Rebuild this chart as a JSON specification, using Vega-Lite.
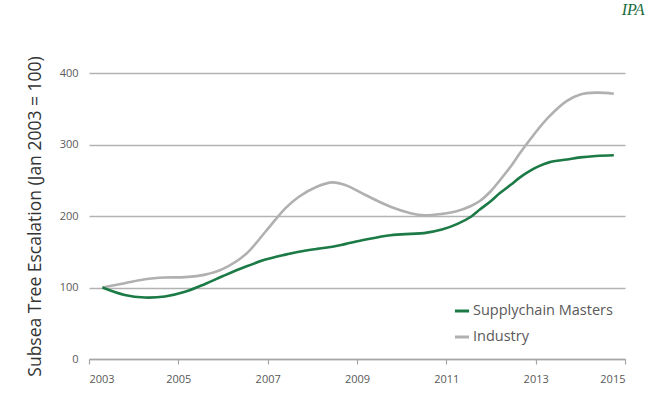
{
  "$schema": "https://vega.github.io/schema/vega-lite/v6.json",
  "width": 536,
  "height": 286,
  "autosize": {"type": "none"},
  "padding": {"left": 89, "top": 73, "right": 20, "bottom": 48},
  "background": "white",
  "config": {
    "view": {"stroke": null},
    "font": "Open Sans"
  },
  "title": {
    "text": "IPA",
    "anchor": "end",
    "orient": "top",
    "offset": 38,
    "dx": 19,
    "font": "Liberation Serif",
    "fontStyle": "italic",
    "fontWeight": "normal",
    "fontSize": 16,
    "color": "#1a6b3c"
  },
  "data": {
    "values": [
      {"series": "Industry", "year": 2003.3, "value": 100},
      {"series": "Industry", "year": 2003.8, "value": 106},
      {"series": "Industry", "year": 2004.25, "value": 111.5},
      {"series": "Industry", "year": 2004.7, "value": 114},
      {"series": "Industry", "year": 2005.15, "value": 114.5},
      {"series": "Industry", "year": 2005.6, "value": 118},
      {"series": "Industry", "year": 2006.0, "value": 126},
      {"series": "Industry", "year": 2006.5, "value": 146},
      {"series": "Industry", "year": 2006.95, "value": 178},
      {"series": "Industry", "year": 2007.4, "value": 211},
      {"series": "Industry", "year": 2007.7, "value": 227},
      {"series": "Industry", "year": 2008.1, "value": 241},
      {"series": "Industry", "year": 2008.45, "value": 247},
      {"series": "Industry", "year": 2008.75, "value": 243},
      {"series": "Industry", "year": 2009.2, "value": 229},
      {"series": "Industry", "year": 2009.75, "value": 213},
      {"series": "Industry", "year": 2010.2, "value": 204},
      {"series": "Industry", "year": 2010.5, "value": 201},
      {"series": "Industry", "year": 2010.9, "value": 203},
      {"series": "Industry", "year": 2011.25, "value": 207},
      {"series": "Industry", "year": 2011.55, "value": 214},
      {"series": "Industry", "year": 2011.75, "value": 221},
      {"series": "Industry", "year": 2012.0, "value": 235},
      {"series": "Industry", "year": 2012.2, "value": 250},
      {"series": "Industry", "year": 2012.45, "value": 270},
      {"series": "Industry", "year": 2012.65, "value": 288},
      {"series": "Industry", "year": 2012.9, "value": 309},
      {"series": "Industry", "year": 2013.05, "value": 321},
      {"series": "Industry", "year": 2013.3, "value": 339},
      {"series": "Industry", "year": 2013.7, "value": 361},
      {"series": "Industry", "year": 2014.0, "value": 370},
      {"series": "Industry", "year": 2014.35, "value": 372.5},
      {"series": "Industry", "year": 2014.75, "value": 371},
      {"series": "Supplychain Masters", "year": 2003.3, "value": 100},
      {"series": "Supplychain Masters", "year": 2003.8, "value": 89.5},
      {"series": "Supplychain Masters", "year": 2004.25, "value": 86},
      {"series": "Supplychain Masters", "year": 2004.7, "value": 87.5},
      {"series": "Supplychain Masters", "year": 2005.15, "value": 94},
      {"series": "Supplychain Masters", "year": 2005.6, "value": 105},
      {"series": "Supplychain Masters", "year": 2006.0, "value": 116},
      {"series": "Supplychain Masters", "year": 2006.5, "value": 129},
      {"series": "Supplychain Masters", "year": 2006.95, "value": 139},
      {"series": "Supplychain Masters", "year": 2007.4, "value": 146},
      {"series": "Supplychain Masters", "year": 2007.7, "value": 150},
      {"series": "Supplychain Masters", "year": 2008.1, "value": 154},
      {"series": "Supplychain Masters", "year": 2008.45, "value": 157},
      {"series": "Supplychain Masters", "year": 2008.75, "value": 161},
      {"series": "Supplychain Masters", "year": 2009.2, "value": 167},
      {"series": "Supplychain Masters", "year": 2009.75, "value": 173},
      {"series": "Supplychain Masters", "year": 2010.2, "value": 175},
      {"series": "Supplychain Masters", "year": 2010.5, "value": 176},
      {"series": "Supplychain Masters", "year": 2010.9, "value": 181},
      {"series": "Supplychain Masters", "year": 2011.25, "value": 189},
      {"series": "Supplychain Masters", "year": 2011.55, "value": 199},
      {"series": "Supplychain Masters", "year": 2011.75, "value": 209},
      {"series": "Supplychain Masters", "year": 2012.0, "value": 221},
      {"series": "Supplychain Masters", "year": 2012.2, "value": 232},
      {"series": "Supplychain Masters", "year": 2012.45, "value": 244},
      {"series": "Supplychain Masters", "year": 2012.65, "value": 254},
      {"series": "Supplychain Masters", "year": 2012.9, "value": 264},
      {"series": "Supplychain Masters", "year": 2013.05, "value": 269},
      {"series": "Supplychain Masters", "year": 2013.3, "value": 275},
      {"series": "Supplychain Masters", "year": 2013.7, "value": 279},
      {"series": "Supplychain Masters", "year": 2014.0, "value": 282},
      {"series": "Supplychain Masters", "year": 2014.35, "value": 284},
      {"series": "Supplychain Masters", "year": 2014.75, "value": 285}
    ]
  },
  "mark": {"type": "line", "interpolate": "catmull-rom", "strokeWidth": 2.6},
  "encoding": {
    "x": {
      "field": "year",
      "type": "quantitative",
      "scale": {"domain": [2003, 2015], "nice": false, "zero": false},
      "axis": {
        "title": null,
        "values": [2003, 2005, 2007, 2009, 2011, 2013, 2015],
        "format": "d",
        "grid": false,
        "domainColor": "#a6a6a6",
        "domainWidth": 1.5,
        "tickColor": "#a6a6a6",
        "tickWidth": 1.2,
        "tickSize": 5,
        "labelFont": "Open Sans",
        "labelFontSize": 11,
        "labelColor": "#595959",
        "labelPadding": 9
      }
    },
    "y": {
      "field": "value",
      "type": "quantitative",
      "scale": {"domain": [0, 400], "nice": false},
      "axis": {
        "title": "Subsea Tree Escalation (Jan 2003 = 100)",
        "titleFont": "Open Sans",
        "titleFontSize": 17.5,
        "titleFontWeight": "normal",
        "titleColor": "#333333",
        "titlePadding": 15,
        "values": [0, 100, 200, 300, 400],
        "domain": false,
        "ticks": false,
        "grid": true,
        "gridColor": "#b3b3b3",
        "gridWidth": 1.5,
        "labelFont": "Open Sans",
        "labelFontSize": 11,
        "labelColor": "#595959",
        "labelPadding": 11
      }
    },
    "color": {
      "field": "series",
      "type": "nominal",
      "scale": {
        "domain": ["Supplychain Masters", "Industry"],
        "range": ["#1b7a45", "#b0b0b0"]
      },
      "legend": {
        "title": null,
        "orient": "none",
        "legendX": 364,
        "legendY": 229,
        "symbolType": "stroke",
        "symbolSize": 200,
        "symbolStrokeWidth": 3,
        "labelFont": "Open Sans",
        "labelFontSize": 14.5,
        "labelColor": "#595959",
        "labelOffset": 2,
        "rowPadding": 10
      }
    },
    "order": {"field": "series", "sort": "ascending"}
  }
}
